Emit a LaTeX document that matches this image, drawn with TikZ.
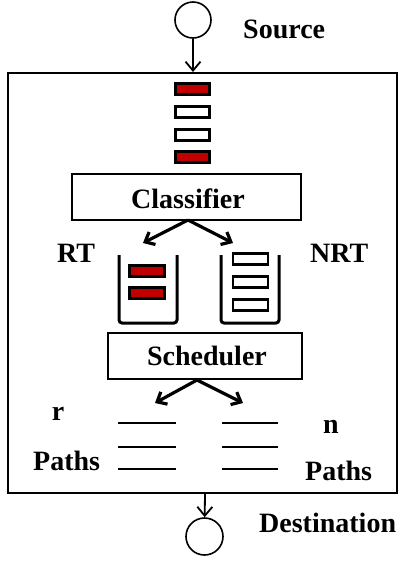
\documentclass[tikz,border=0pt]{standalone}
\usepackage{fontspec}
\setmainfont{Liberation Serif}
\usetikzlibrary{arrows.meta}
\definecolor{pktred}{RGB}{192,0,0}
\tikzset{
  lbl/.style={font=\bfseries\fontsize{28}{32}\selectfont, inner sep=0pt},
  pkt/.style={draw, line width=2.2pt, minimum width=34pt, minimum height=11pt, inner sep=0pt},
  redpkt/.style={pkt, fill=pktred},
  whitepkt/.style={pkt, fill=white},
  blk/.style={draw, line width=2pt, inner sep=0pt},
  endpt/.style={circle, draw, line width=1.6pt, minimum size=36pt, inner sep=0pt},
  thinarr/.style={line width=1.8pt, -{Straight Barb[length=9pt,width=15pt,line width=1.8pt]}},
  thickarr/.style={line width=3.2pt, -{Straight Barb[length=8pt,width=14pt,line width=3.2pt]}},
  bucket/.style={line width=3pt, rounded corners=3pt},
  pathline/.style={line width=2.8pt}
}
\begin{document}
\begin{tikzpicture}[x=1pt,y=-1pt]
\useasboundingbox (0,0) rectangle (418,563);
% outer box
\node[blk, line width=2.4pt, minimum width=389pt, minimum height=420pt, anchor=north west] (outer) at (7,72) {};
% source
\node[endpt] (src) at (193,20) {};
\node[lbl, anchor=base west] (srcl) at (243,38) {Source};
\coordinate (srcin) at (193,72);
\draw[thinarr] (src) -- (srcin);
% incoming packets
\node[redpkt] (p1) at (192.5,89) {};
\node[whitepkt] (p2) at (192.5,112) {};
\node[whitepkt] (p3) at (192.5,135) {};
\node[redpkt] (p4) at (192.5,157) {};
% classifier
\node[blk, minimum width=229pt, minimum height=46pt] (cls) at (186.5,197) {};
\node[lbl, anchor=base] (clsl) at (188,208) {Classifier};
\coordinate (capex) at (188,220);
\coordinate (ctipL) at (143,243);
\coordinate (ctipR) at (233,243);
\draw[thickarr] (capex) -- (ctipL);
\draw[thickarr] (capex) -- (ctipR);
% labels
\node[lbl, anchor=base west] (rt) at (57,262) {RT};
\node[lbl, anchor=base west] (nrt) at (310,262) {NRT};
% RT bucket
\coordinate (rtA) at (119,255);
\coordinate (rtB) at (119,323);
\coordinate (rtC) at (177,323);
\coordinate (rtD) at (177,255);
\draw[bucket] (rtA) -- (rtB) -- (rtC) -- (rtD);
\node[redpkt, minimum width=35pt] (r1) at (147,271) {};
\node[redpkt, minimum width=35pt] (r2) at (147,293) {};
% NRT bucket
\coordinate (nA) at (221,255);
\coordinate (nB) at (221,323);
\coordinate (nC) at (279,323);
\coordinate (nD) at (279,255);
\draw[bucket] (nA) -- (nB) -- (nC) -- (nD);
\node[whitepkt, minimum width=35pt] (n1) at (250.5,259) {};
\node[whitepkt, minimum width=35pt] (n2) at (250.5,282) {};
\node[whitepkt, minimum width=35pt] (n3) at (250.5,305) {};
% scheduler
\node[blk, minimum width=194pt, minimum height=46pt] (sch) at (205,356) {};
\node[lbl, anchor=base] (schl) at (207,365) {Scheduler};
\coordinate (sapex) at (197,380);
\coordinate (stipL) at (155,403);
\coordinate (stipR) at (243,403);
\draw[thickarr] (sapex) -- (stipL);
\draw[thickarr] (sapex) -- (stipR);
% paths
\coordinate (la1) at (118,423); \coordinate (lb1) at (176,423);
\coordinate (la2) at (118,447); \coordinate (lb2) at (176,447);
\coordinate (la3) at (118,469); \coordinate (lb3) at (176,469);
\coordinate (ra1) at (222,423); \coordinate (rb1) at (278,423);
\coordinate (ra2) at (222,447); \coordinate (rb2) at (278,447);
\coordinate (ra3) at (222,469); \coordinate (rb3) at (278,469);
\draw[pathline] (la1) -- (lb1);
\draw[pathline] (la2) -- (lb2);
\draw[pathline] (la3) -- (lb3);
\draw[pathline] (ra1) -- (rb1);
\draw[pathline] (ra2) -- (rb2);
\draw[pathline] (ra3) -- (rb3);
\node[lbl, anchor=base] (rl) at (58,420) {r};
\node[lbl, anchor=base west] (pl) at (33,470) {Paths};
\node[lbl, anchor=base] (nl) at (331,433) {n};
\node[lbl, anchor=base west] (pr) at (305,480) {Paths};
% destination
\coordinate (dstout) at (205,492);
\node[endpt, minimum size=37pt] (dst) at (204.5,536.5) {};
\draw[thinarr] (dstout) -- (dst);
\node[lbl, anchor=base west] (dstl) at (259,532) {Destination};
\end{tikzpicture}
\end{document}
